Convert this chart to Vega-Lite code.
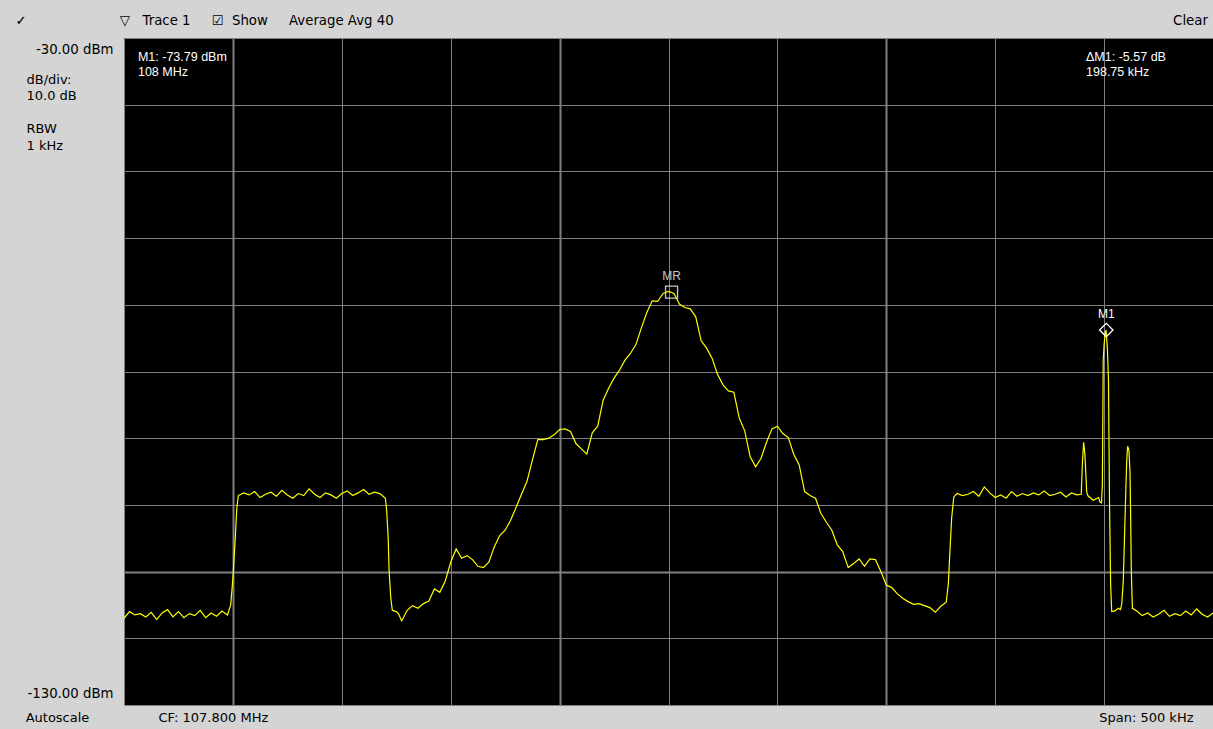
{
  "$schema": "https://vega.github.io/schema/vega-lite/v6.json",
  "width": 1089,
  "height": 667,
  "autosize": {"type": "none"},
  "padding": {"left": 124, "top": 38, "right": 0, "bottom": 24},
  "background": "#d4d4d4",
  "view": {"fill": "#000000", "stroke": null},
  "config": {"font": "DejaVu Sans"},
  "datasets": {
    "trace": [
      {"freq_mhz": 107.5500, "level_dbm": -117.0}, {"freq_mhz": 107.5525, "level_dbm": -116.0}, {"freq_mhz": 107.5550, "level_dbm": -116.5},
      {"freq_mhz": 107.5575, "level_dbm": -116.3}, {"freq_mhz": 107.5600, "level_dbm": -116.8}, {"freq_mhz": 107.5625, "level_dbm": -116.1},
      {"freq_mhz": 107.5650, "level_dbm": -117.2}, {"freq_mhz": 107.5675, "level_dbm": -116.2}, {"freq_mhz": 107.5700, "level_dbm": -115.7},
      {"freq_mhz": 107.5725, "level_dbm": -116.8}, {"freq_mhz": 107.5750, "level_dbm": -116.0}, {"freq_mhz": 107.5775, "level_dbm": -116.9},
      {"freq_mhz": 107.5800, "level_dbm": -116.3}, {"freq_mhz": 107.5825, "level_dbm": -116.6}, {"freq_mhz": 107.5850, "level_dbm": -115.8},
      {"freq_mhz": 107.5875, "level_dbm": -116.9}, {"freq_mhz": 107.5900, "level_dbm": -116.2}, {"freq_mhz": 107.5925, "level_dbm": -116.7},
      {"freq_mhz": 107.5950, "level_dbm": -115.9}, {"freq_mhz": 107.5975, "level_dbm": -116.5}, {"freq_mhz": 107.5990, "level_dbm": -115.0},
      {"freq_mhz": 107.6000, "level_dbm": -111.0}, {"freq_mhz": 107.6010, "level_dbm": -105.5}, {"freq_mhz": 107.6018, "level_dbm": -100.5},
      {"freq_mhz": 107.6025, "level_dbm": -98.6}, {"freq_mhz": 107.6050, "level_dbm": -98.2}, {"freq_mhz": 107.6075, "level_dbm": -98.5},
      {"freq_mhz": 107.6100, "level_dbm": -98.0}, {"freq_mhz": 107.6125, "level_dbm": -98.9}, {"freq_mhz": 107.6150, "level_dbm": -98.4},
      {"freq_mhz": 107.6175, "level_dbm": -98.1}, {"freq_mhz": 107.6200, "level_dbm": -98.7}, {"freq_mhz": 107.6225, "level_dbm": -97.8},
      {"freq_mhz": 107.6250, "level_dbm": -98.5}, {"freq_mhz": 107.6275, "level_dbm": -99.0}, {"freq_mhz": 107.6300, "level_dbm": -98.3},
      {"freq_mhz": 107.6325, "level_dbm": -98.6}, {"freq_mhz": 107.6350, "level_dbm": -97.6}, {"freq_mhz": 107.6375, "level_dbm": -98.4},
      {"freq_mhz": 107.6400, "level_dbm": -98.9}, {"freq_mhz": 107.6425, "level_dbm": -98.2}, {"freq_mhz": 107.6450, "level_dbm": -98.5},
      {"freq_mhz": 107.6475, "level_dbm": -99.0}, {"freq_mhz": 107.6500, "level_dbm": -98.3}, {"freq_mhz": 107.6525, "level_dbm": -97.9},
      {"freq_mhz": 107.6550, "level_dbm": -98.6}, {"freq_mhz": 107.6575, "level_dbm": -98.2}, {"freq_mhz": 107.6600, "level_dbm": -97.7},
      {"freq_mhz": 107.6625, "level_dbm": -98.4}, {"freq_mhz": 107.6650, "level_dbm": -98.1}, {"freq_mhz": 107.6675, "level_dbm": -98.3},
      {"freq_mhz": 107.6700, "level_dbm": -99.0}, {"freq_mhz": 107.6706, "level_dbm": -100.8}, {"freq_mhz": 107.6713, "level_dbm": -104.9},
      {"freq_mhz": 107.6717, "level_dbm": -109.8}, {"freq_mhz": 107.6725, "level_dbm": -114.0}, {"freq_mhz": 107.6732, "level_dbm": -115.8},
      {"freq_mhz": 107.6750, "level_dbm": -116.0}, {"freq_mhz": 107.6760, "level_dbm": -116.3}, {"freq_mhz": 107.6775, "level_dbm": -117.4},
      {"freq_mhz": 107.6800, "level_dbm": -115.8}, {"freq_mhz": 107.6825, "level_dbm": -115.1}, {"freq_mhz": 107.6850, "level_dbm": -115.5},
      {"freq_mhz": 107.6875, "level_dbm": -114.8}, {"freq_mhz": 107.6900, "level_dbm": -114.4}, {"freq_mhz": 107.6925, "level_dbm": -112.6},
      {"freq_mhz": 107.6950, "level_dbm": -113.1}, {"freq_mhz": 107.6975, "level_dbm": -111.4}, {"freq_mhz": 107.7000, "level_dbm": -108.6},
      {"freq_mhz": 107.7025, "level_dbm": -106.6}, {"freq_mhz": 107.7050, "level_dbm": -108.0}, {"freq_mhz": 107.7075, "level_dbm": -107.6},
      {"freq_mhz": 107.7100, "level_dbm": -108.2}, {"freq_mhz": 107.7125, "level_dbm": -109.2}, {"freq_mhz": 107.7150, "level_dbm": -109.4},
      {"freq_mhz": 107.7175, "level_dbm": -108.6}, {"freq_mhz": 107.7200, "level_dbm": -106.3}, {"freq_mhz": 107.7225, "level_dbm": -104.6},
      {"freq_mhz": 107.7250, "level_dbm": -103.8}, {"freq_mhz": 107.7275, "level_dbm": -102.3}, {"freq_mhz": 107.7300, "level_dbm": -100.4},
      {"freq_mhz": 107.7325, "level_dbm": -98.4}, {"freq_mhz": 107.7350, "level_dbm": -96.5}, {"freq_mhz": 107.7375, "level_dbm": -93.3},
      {"freq_mhz": 107.7400, "level_dbm": -90.2}, {"freq_mhz": 107.7425, "level_dbm": -90.2}, {"freq_mhz": 107.7450, "level_dbm": -90.0},
      {"freq_mhz": 107.7475, "level_dbm": -89.5}, {"freq_mhz": 107.7500, "level_dbm": -88.7}, {"freq_mhz": 107.7525, "level_dbm": -88.6},
      {"freq_mhz": 107.7550, "level_dbm": -89.0}, {"freq_mhz": 107.7575, "level_dbm": -90.8}, {"freq_mhz": 107.7600, "level_dbm": -91.6},
      {"freq_mhz": 107.7625, "level_dbm": -92.4}, {"freq_mhz": 107.7650, "level_dbm": -89.2}, {"freq_mhz": 107.7675, "level_dbm": -88.2},
      {"freq_mhz": 107.7700, "level_dbm": -84.3}, {"freq_mhz": 107.7725, "level_dbm": -82.5}, {"freq_mhz": 107.7750, "level_dbm": -81.0},
      {"freq_mhz": 107.7775, "level_dbm": -79.8}, {"freq_mhz": 107.7800, "level_dbm": -78.3}, {"freq_mhz": 107.7825, "level_dbm": -77.3},
      {"freq_mhz": 107.7850, "level_dbm": -76.0}, {"freq_mhz": 107.7875, "level_dbm": -73.5}, {"freq_mhz": 107.7900, "level_dbm": -71.2},
      {"freq_mhz": 107.7925, "level_dbm": -69.4}, {"freq_mhz": 107.7950, "level_dbm": -69.5}, {"freq_mhz": 107.7975, "level_dbm": -68.3},
      {"freq_mhz": 107.8000, "level_dbm": -68.0}, {"freq_mhz": 107.8025, "level_dbm": -68.3}, {"freq_mhz": 107.8050, "level_dbm": -69.9},
      {"freq_mhz": 107.8075, "level_dbm": -70.4}, {"freq_mhz": 107.8100, "level_dbm": -70.6}, {"freq_mhz": 107.8125, "level_dbm": -71.8},
      {"freq_mhz": 107.8150, "level_dbm": -75.4}, {"freq_mhz": 107.8175, "level_dbm": -76.5}, {"freq_mhz": 107.8200, "level_dbm": -78.0},
      {"freq_mhz": 107.8225, "level_dbm": -80.4}, {"freq_mhz": 107.8250, "level_dbm": -82.0}, {"freq_mhz": 107.8275, "level_dbm": -82.9},
      {"freq_mhz": 107.8300, "level_dbm": -83.1}, {"freq_mhz": 107.8325, "level_dbm": -87.0}, {"freq_mhz": 107.8350, "level_dbm": -88.9},
      {"freq_mhz": 107.8375, "level_dbm": -92.8}, {"freq_mhz": 107.8400, "level_dbm": -94.3}, {"freq_mhz": 107.8425, "level_dbm": -93.0},
      {"freq_mhz": 107.8450, "level_dbm": -90.6}, {"freq_mhz": 107.8475, "level_dbm": -88.6}, {"freq_mhz": 107.8500, "level_dbm": -88.2},
      {"freq_mhz": 107.8525, "level_dbm": -89.3}, {"freq_mhz": 107.8550, "level_dbm": -89.9}, {"freq_mhz": 107.8575, "level_dbm": -92.4},
      {"freq_mhz": 107.8600, "level_dbm": -94.0}, {"freq_mhz": 107.8625, "level_dbm": -98.0}, {"freq_mhz": 107.8650, "level_dbm": -98.6},
      {"freq_mhz": 107.8675, "level_dbm": -99.0}, {"freq_mhz": 107.8700, "level_dbm": -101.3}, {"freq_mhz": 107.8725, "level_dbm": -102.6},
      {"freq_mhz": 107.8750, "level_dbm": -103.8}, {"freq_mhz": 107.8775, "level_dbm": -106.0}, {"freq_mhz": 107.8800, "level_dbm": -107.0},
      {"freq_mhz": 107.8825, "level_dbm": -109.4}, {"freq_mhz": 107.8850, "level_dbm": -108.8}, {"freq_mhz": 107.8875, "level_dbm": -108.1},
      {"freq_mhz": 107.8900, "level_dbm": -109.2}, {"freq_mhz": 107.8925, "level_dbm": -108.1}, {"freq_mhz": 107.8950, "level_dbm": -108.2},
      {"freq_mhz": 107.8975, "level_dbm": -110.0}, {"freq_mhz": 107.9000, "level_dbm": -112.0}, {"freq_mhz": 107.9025, "level_dbm": -112.4},
      {"freq_mhz": 107.9050, "level_dbm": -113.3}, {"freq_mhz": 107.9075, "level_dbm": -114.0}, {"freq_mhz": 107.9100, "level_dbm": -114.5},
      {"freq_mhz": 107.9125, "level_dbm": -114.9}, {"freq_mhz": 107.9150, "level_dbm": -114.8}, {"freq_mhz": 107.9175, "level_dbm": -115.1},
      {"freq_mhz": 107.9200, "level_dbm": -115.4}, {"freq_mhz": 107.9225, "level_dbm": -116.1}, {"freq_mhz": 107.9250, "level_dbm": -115.2},
      {"freq_mhz": 107.9275, "level_dbm": -114.6}, {"freq_mhz": 107.9285, "level_dbm": -111.8}, {"freq_mhz": 107.9292, "level_dbm": -107.0},
      {"freq_mhz": 107.9300, "level_dbm": -102.0}, {"freq_mhz": 107.9310, "level_dbm": -98.8}, {"freq_mhz": 107.9325, "level_dbm": -98.3},
      {"freq_mhz": 107.9350, "level_dbm": -98.6}, {"freq_mhz": 107.9375, "level_dbm": -98.4}, {"freq_mhz": 107.9400, "level_dbm": -98.0},
      {"freq_mhz": 107.9425, "level_dbm": -98.7}, {"freq_mhz": 107.9450, "level_dbm": -97.3}, {"freq_mhz": 107.9475, "level_dbm": -98.2},
      {"freq_mhz": 107.9500, "level_dbm": -98.9}, {"freq_mhz": 107.9525, "level_dbm": -98.5}, {"freq_mhz": 107.9550, "level_dbm": -99.0},
      {"freq_mhz": 107.9575, "level_dbm": -98.0}, {"freq_mhz": 107.9600, "level_dbm": -98.7}, {"freq_mhz": 107.9625, "level_dbm": -98.3},
      {"freq_mhz": 107.9650, "level_dbm": -98.6}, {"freq_mhz": 107.9675, "level_dbm": -98.2}, {"freq_mhz": 107.9700, "level_dbm": -98.5},
      {"freq_mhz": 107.9725, "level_dbm": -97.9}, {"freq_mhz": 107.9750, "level_dbm": -98.6}, {"freq_mhz": 107.9775, "level_dbm": -98.4},
      {"freq_mhz": 107.9800, "level_dbm": -98.1}, {"freq_mhz": 107.9825, "level_dbm": -98.8}, {"freq_mhz": 107.9850, "level_dbm": -98.2},
      {"freq_mhz": 107.9875, "level_dbm": -98.5}, {"freq_mhz": 107.9895, "level_dbm": -98.4}, {"freq_mhz": 107.9900, "level_dbm": -94.0},
      {"freq_mhz": 107.9906, "level_dbm": -90.6}, {"freq_mhz": 107.9912, "level_dbm": -92.5}, {"freq_mhz": 107.9920, "level_dbm": -98.0},
      {"freq_mhz": 107.9925, "level_dbm": -98.6}, {"freq_mhz": 107.9950, "level_dbm": -99.3}, {"freq_mhz": 107.9975, "level_dbm": -98.9},
      {"freq_mhz": 107.9980, "level_dbm": -99.5}, {"freq_mhz": 107.9988, "level_dbm": -99.7}, {"freq_mhz": 107.9992, "level_dbm": -97.0},
      {"freq_mhz": 107.9996, "level_dbm": -78.3}, {"freq_mhz": 108.0000, "level_dbm": -76.0}, {"freq_mhz": 108.0005, "level_dbm": -74.2},
      {"freq_mhz": 108.0009, "level_dbm": -73.8}, {"freq_mhz": 108.0015, "level_dbm": -76.5}, {"freq_mhz": 108.0020, "level_dbm": -81.0},
      {"freq_mhz": 108.0025, "level_dbm": -100.0}, {"freq_mhz": 108.0030, "level_dbm": -112.0}, {"freq_mhz": 108.0035, "level_dbm": -116.0},
      {"freq_mhz": 108.0050, "level_dbm": -115.9}, {"freq_mhz": 108.0065, "level_dbm": -115.5}, {"freq_mhz": 108.0075, "level_dbm": -115.7},
      {"freq_mhz": 108.0081, "level_dbm": -114.9}, {"freq_mhz": 108.0088, "level_dbm": -111.4}, {"freq_mhz": 108.0100, "level_dbm": -97.5},
      {"freq_mhz": 108.0104, "level_dbm": -93.3}, {"freq_mhz": 108.0108, "level_dbm": -91.2}, {"freq_mhz": 108.0114, "level_dbm": -91.8},
      {"freq_mhz": 108.0119, "level_dbm": -95.2}, {"freq_mhz": 108.0122, "level_dbm": -102.0}, {"freq_mhz": 108.0125, "level_dbm": -110.0},
      {"freq_mhz": 108.0130, "level_dbm": -115.5}, {"freq_mhz": 108.0150, "level_dbm": -115.9}, {"freq_mhz": 108.0175, "level_dbm": -116.6},
      {"freq_mhz": 108.0200, "level_dbm": -116.2}, {"freq_mhz": 108.0225, "level_dbm": -116.8}, {"freq_mhz": 108.0250, "level_dbm": -116.4},
      {"freq_mhz": 108.0275, "level_dbm": -115.8}, {"freq_mhz": 108.0300, "level_dbm": -116.7}, {"freq_mhz": 108.0325, "level_dbm": -116.3},
      {"freq_mhz": 108.0350, "level_dbm": -116.6}, {"freq_mhz": 108.0375, "level_dbm": -115.9}, {"freq_mhz": 108.0400, "level_dbm": -116.5},
      {"freq_mhz": 108.0425, "level_dbm": -115.6}, {"freq_mhz": 108.0450, "level_dbm": -116.4}, {"freq_mhz": 108.0475, "level_dbm": -116.8},
      {"freq_mhz": 108.0500, "level_dbm": -116.2}
    ],
    "markers": [
      {"name": "MR", "freq_mhz": 107.8014, "level_dbm": -68.1},
      {"name": "M1", "freq_mhz": 108.0010, "level_dbm": -73.79}
    ],
    "readouts": [
      {"line": "M1: -73.79 dBm", "freq_mhz": 107.5564, "level_dbm": -32.9},
      {"line": "108 MHz", "freq_mhz": 107.5564, "level_dbm": -35.1},
      {"line": "ΔM1: -5.57 dB", "freq_mhz": 107.9917, "level_dbm": -32.9},
      {"line": "198.75 kHz", "freq_mhz": 107.9917, "level_dbm": -35.1}
    ]
  },
  "layer": [
    {
      "data": {"name": "trace"},
      "mark": {"type": "line", "color": "#ffff00", "strokeWidth": 1.2, "clip": true},
      "encoding": {
        "x": {
          "field": "freq_mhz", "type": "quantitative",
          "scale": {"domain": [107.55, 108.05], "nice": false, "zero": false},
          "axis": {
            "orient": "bottom",
            "values": [107.55, 107.6, 107.65, 107.7, 107.75, 107.8, 107.85, 107.9, 107.95, 108.0, 108.05],
            "grid": true, "gridColor": "#808080", "gridOpacity": 1,
            "gridWidth": {"condition": {"test": "abs(datum.value - 107.6) < 0.001 || abs(datum.value - 107.75) < 0.001 || abs(datum.value - 107.9) < 0.001", "value": 2}, "value": 1},
            "domain": false, "ticks": false, "tickSize": 0,
            "labelExpr": "datum.value < 107.56 ? 'CF: 107.800 MHz' : (datum.value > 108.04 ? 'Span: 500 kHz' : '')",
            "labelAlign": {"condition": {"test": "datum.value < 107.56", "value": "left"}, "value": "right"},
            "labelOffset": {"condition": {"test": "datum.value < 107.56", "value": 34}, "value": -20},
            "labelBaseline": "middle", "labelPadding": 12, "labelLimit": 0,
            "labelFont": "DejaVu Sans", "labelFontSize": 13, "labelColor": "#000000",
            "labelOverlap": false, "labelFlush": false, "labelBound": false,
            "title": "Autoscale", "titleX": -67, "titleY": 12, "titleAlign": "center", "titleBaseline": "middle",
            "titleFont": "DejaVu Sans", "titleFontSize": 13, "titleFontWeight": "normal", "titleColor": "#000000"
          }
        },
        "y": {
          "field": "level_dbm", "type": "quantitative",
          "scale": {"domain": [-130, -30], "nice": false, "zero": false},
          "axis": {
            "orient": "left",
            "values": [-130, -120, -110, -100, -90, -80, -70, -60, -50, -40, -30],
            "grid": true, "gridColor": "#808080", "gridOpacity": 1,
            "gridWidth": {"condition": {"test": "datum.value == -110", "value": 2}, "value": 1},
            "domain": false, "ticks": false, "tickSize": 0,
            "labelExpr": "datum.value == -30 ? '-30.00 dBm' : (datum.value == -130 ? '-130.00 dBm' : '')",
            "labelOffset": {"condition": {"test": "datum.value == -30", "value": 11}, "value": -12},
            "labelAlign": "right", "labelBaseline": "middle", "labelPadding": 11, "labelLimit": 0,
            "labelFont": "DejaVu Sans", "labelFontSize": 13.3, "labelColor": "#000000",
            "labelOverlap": false, "labelFlush": false, "labelBound": false,
            "title": ["dB/div:", "10.0 dB", "\u2800", "RBW", "1 kHz"],
            "titleX": -98, "titleY": 45, "titleAngle": 0, "titleAlign": "left", "titleBaseline": "alphabetic",
            "titleLineHeight": 16.5,
            "titleFont": "DejaVu Sans", "titleFontSize": 13, "titleFontWeight": "normal", "titleColor": "#000000"
          }
        }
      }
    },
    {
      "data": {"name": "markers"},
      "mark": {"type": "point", "filled": false, "strokeWidth": 1.3, "opacity": 1},
      "encoding": {
        "x": {
          "field": "freq_mhz", "type": "quantitative",
          "scale": {"domain": [107.55, 108.05], "nice": false, "zero": false},
          "axis": {
            "orient": "top",
            "values": [107.55, 108.05],
            "grid": false, "domain": false, "ticks": false, "tickSize": 0,
            "labelExpr": "datum.value < 107.56 ? '✓\u00a0\u00a0\u00a0\u00a0\u00a0\u00a0\u00a0\u00a0\u00a0\u00a0\u00a0\u00a0\u00a0\u00a0\u00a0\u00a0\u00a0\u00a0\u00a0\u00a0\u00a0\u00a0▽\u00a0\u00a0\u00a0Trace 1\u00a0\u00a0\u00a0\u00a0\u00a0☑\u00a0\u00a0Show\u00a0\u00a0\u00a0\u00a0\u00a0Average Avg 40' : 'Clear'",
            "labelAlign": {"condition": {"test": "datum.value < 107.56", "value": "left"}, "value": "center"},
            "labelOffset": {"condition": {"test": "datum.value < 107.56", "value": -109}, "value": -23},
            "labelBaseline": "middle", "labelPadding": 18, "labelLimit": 0,
            "labelFont": "DejaVu Sans", "labelFontSize": 13.3, "labelColor": "#000000",
            "labelOverlap": false, "labelFlush": false, "labelBound": false,
            "title": null
          }
        },
        "y": {
          "field": "level_dbm", "type": "quantitative",
          "scale": {"domain": [-130, -30], "nice": false, "zero": false},
          "axis": null
        },
        "shape": {"field": "name", "type": "nominal", "scale": {"domain": ["MR", "M1"], "range": ["square", "diamond"]}, "legend": null},
        "color": {"field": "name", "type": "nominal", "scale": {"domain": ["MR", "M1"], "range": ["#c8c8c8", "#ffffff"]}, "legend": null},
        "size": {"field": "name", "type": "ordinal", "scale": {"domain": ["MR", "M1"], "range": [144, 180]}, "legend": null}
      }
    },
    {
      "data": {"name": "markers"},
      "mark": {"type": "text", "dy": -16, "font": "Liberation Sans", "fontSize": 12, "align": "center", "baseline": "middle"},
      "encoding": {
        "x": {"field": "freq_mhz", "type": "quantitative", "axis": null},
        "y": {"field": "level_dbm", "type": "quantitative", "axis": null},
        "text": {"field": "name"},
        "color": {"field": "name", "type": "nominal", "scale": {"domain": ["MR", "M1"], "range": ["#c8c8c8", "#ffffff"]}, "legend": null}
      }
    },
    {
      "data": {"name": "readouts"},
      "mark": {"type": "text", "font": "Liberation Sans", "fontSize": 12.5, "align": "left", "baseline": "middle", "color": "#ffffff"},
      "encoding": {
        "x": {"field": "freq_mhz", "type": "quantitative", "axis": null},
        "y": {"field": "level_dbm", "type": "quantitative", "axis": null},
        "text": {"field": "line"}
      }
    }
  ],
  "resolve": {"axis": {"x": "independent", "y": "independent"}}
}
